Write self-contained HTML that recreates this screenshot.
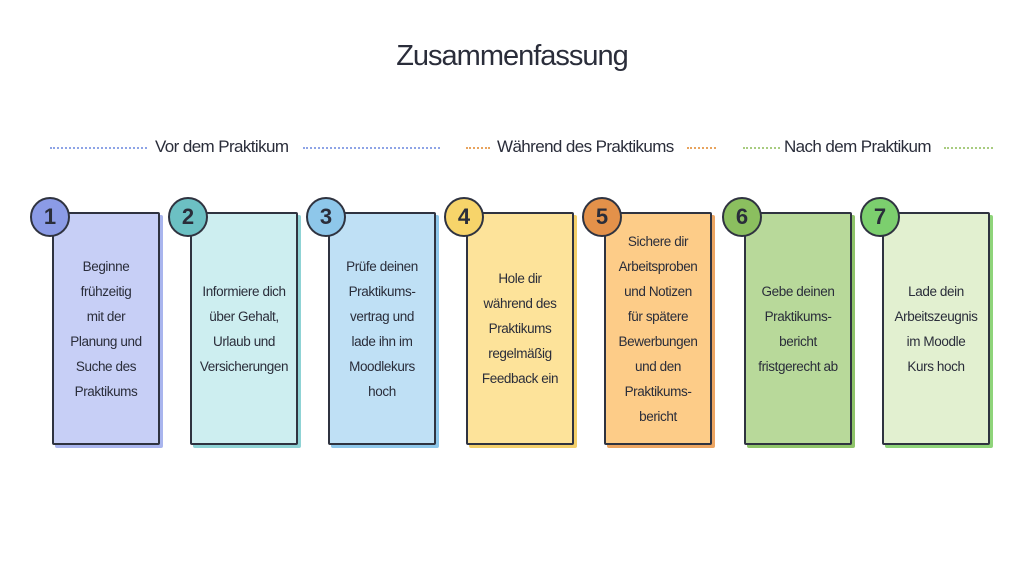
<!DOCTYPE html><html><head><meta charset="utf-8"><style>
body{margin:0;width:1024px;height:576px;background:#fff;position:relative;overflow:hidden;font-family:"Liberation Sans",sans-serif;color:#2a2d3a}
.t{position:absolute;left:0;width:1024px;top:40px;text-align:center;font-size:29px;letter-spacing:-1px}
.h{position:absolute;top:137px;font-size:17px;letter-spacing:-0.6px;white-space:nowrap}
.l{position:absolute;top:147px;height:0;border-top:2px dotted}
.c{position:absolute;top:212px;width:104px;height:229px;border:2px solid #2f3340;border-radius:2px;display:flex;align-items:center;justify-content:center;text-align:center;font-size:13.5px;letter-spacing:-0.4px;line-height:25px}
.n{position:absolute;top:197px;width:36px;height:36px;border:2.5px solid #2f3340;border-radius:50%;text-align:center;font-weight:bold;font-size:22px;line-height:36px}
</style></head><body>
<div class="t">Zusammenfassung</div>
<div class="l" style="left:50px;width:97px;border-color:#8ea4e6"></div>
<div class="h" style="left:155px">Vor dem Praktikum</div>
<div class="l" style="left:303px;width:137px;border-color:#8ea4e6"></div>
<div class="l" style="left:466px;width:24px;border-color:#e8a45e"></div>
<div class="h" style="left:497px">Während des Praktikums</div>
<div class="l" style="left:687px;width:29px;border-color:#e8a45e"></div>
<div class="l" style="left:743px;width:37px;border-color:#a8cc80"></div>
<div class="h" style="left:784px">Nach dem Praktikum</div>
<div class="l" style="left:944px;width:49px;border-color:#a8cc80"></div>

<div class="c" style="left:52px;background:#c7cff6;box-shadow:3px 3px 0 #a9b5ee">Beginne<br>frühzeitig<br>mit der<br>Planung und<br>Suche des<br>Praktikums</div>
<div class="n" style="left:30px;background:#8b9be6">1</div>
<div class="c" style="left:190px;background:#cdeef0;box-shadow:3px 3px 0 #8fd3d5">Informiere dich<br>über Gehalt,<br>Urlaub und<br>Versicherungen</div>
<div class="n" style="left:168px;background:#6cc0c3">2</div>
<div class="c" style="left:328px;background:#bfe0f5;box-shadow:3px 3px 0 #8ec7ea">Prüfe deinen<br>Praktikums-<br>vertrag und<br>lade ihn im<br>Moodlekurs<br>hoch</div>
<div class="n" style="left:306px;background:#8ec7ea">3</div>
<div class="c" style="left:466px;background:#fde39a;box-shadow:3px 3px 0 #f3cf6a">Hole dir<br>während des<br>Praktikums<br>regelmäßig<br>Feedback ein</div>
<div class="n" style="left:444px;background:#f7d46a">4</div>
<div class="c" style="left:604px;background:#fdcc88;box-shadow:3px 3px 0 #eca562">Sichere dir<br>Arbeitsproben<br>und Notizen<br>für spätere<br>Bewerbungen<br>und den<br>Praktikums-<br>bericht</div>
<div class="n" style="left:582px;background:#e3914a">5</div>
<div class="c" style="left:744px;background:#b8d99a;box-shadow:3px 3px 0 #8fc46a">Gebe deinen<br>Praktikums-<br>bericht<br>fristgerecht ab</div>
<div class="n" style="left:722px;background:#8bbf5f">6</div>
<div class="c" style="left:882px;background:#e2f0d0;box-shadow:3px 3px 0 #8fd47a">Lade dein<br>Arbeitszeugnis<br>im Moodle<br>Kurs hoch</div>
<div class="n" style="left:860px;background:#7ccf6e">7</div>
</body></html>
